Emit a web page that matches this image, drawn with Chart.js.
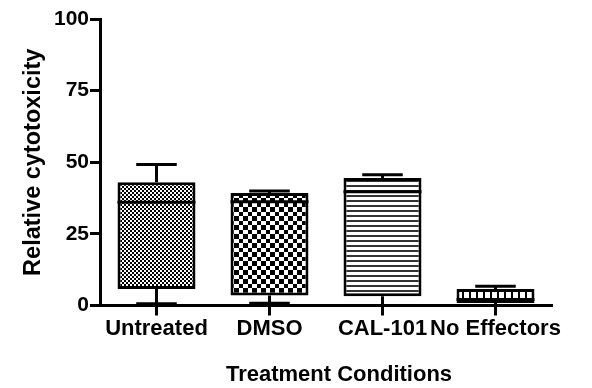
<!DOCTYPE html>
<html>
<head>
<meta charset="utf-8">
<script src="https://cdn.jsdelivr.net/npm/chart.js@4/dist/chart.umd.min.js"></script>
<style>
  html, body { margin: 0; padding: 0; background: #fff; }
  canvas { display: block; }
</style>
</head>
<body>
<canvas id="chart" width="592" height="388"></canvas>
<script>
// Relative cytotoxicity per treatment, as box-and-whisker summaries
const categories = ['Untreated', 'DMSO', 'CAL-101', 'No Effectors'];
const whiskerLow   = [0.6, 0.8, 0.0, 0.0];
const quartileLow  = [5.8, 3.5, 3.2, 0.9];
const medians      = [36.0, 36.2, 39.7, 2.1];
const quartileHigh = [43.0, 39.3, 44.5, 5.8];
const whiskerHigh  = [49.2, 40.0, 45.6, 6.7];
const yTicks = [0, 25, 50, 75, 100];
const xTitle = 'Treatment Conditions';

const FONT = 'Liberation Sans, Arial, Helvetica, sans-serif';

// Monochrome fill patterns, one per box
function makePattern(w, h, paint) {
  const c = document.createElement('canvas');
  c.width = w; c.height = h;
  const g = c.getContext('2d');
  g.fillStyle = '#fff';
  g.fillRect(0, 0, w, h);
  g.fillStyle = '#000';
  paint(g);
  return g.createPattern(c, 'repeat');
}
const fineChecker = makePattern(4, 4, g => { g.fillRect(0, 0, 2, 2); g.fillRect(2, 2, 2, 2); });
const coarseChecker = makePattern(9, 9, g => { g.fillRect(0, 0, 5, 5); g.fillRect(5, 5, 4, 4); });
const hStripes = makePattern(5, 5, g => { g.fillStyle = '#333'; g.fillRect(0, 0, 5, 2); });
const vStripes = makePattern(7, 7, g => { g.fillRect(0, 0, 2, 7); });

// Whiskers behind the boxes, medians on top, axis title under the plot
const boxWhiskers = {
  id: 'boxWhiskers',
  beforeDatasetsDraw(chart) {
    const y = chart.scales.y;
    const ctx = chart.ctx;
    const bars = chart.getDatasetMeta(0).data;
    ctx.save();
    ctx.strokeStyle = '#000';
    ctx.lineWidth = 3;
    ctx.lineCap = 'butt';
    bars.forEach((bar, i) => {
      const half = bar.width * 0.26;
      const pairs = [[quartileHigh[i], whiskerHigh[i]], [quartileLow[i], whiskerLow[i]]];
      pairs.forEach(([from, to]) => {
        const y0 = y.getPixelForValue(from);
        const y1 = y.getPixelForValue(to);
        ctx.beginPath();
        ctx.moveTo(bar.x, y0);
        ctx.lineTo(bar.x, y1);
        ctx.moveTo(bar.x - half, y1);
        ctx.lineTo(bar.x + half, y1);
        ctx.stroke();
      });
    });
    ctx.restore();
  },
  afterDatasetsDraw(chart) {
    const y = chart.scales.y;
    const ctx = chart.ctx;
    const bars = chart.getDatasetMeta(0).data;
    ctx.save();
    ctx.strokeStyle = '#000';
    ctx.lineWidth = 3;
    bars.forEach((bar, i) => {
      const ym = y.getPixelForValue(medians[i]);
      ctx.beginPath();
      ctx.moveTo(bar.x - bar.width / 2, ym);
      ctx.lineTo(bar.x + bar.width / 2, ym);
      ctx.stroke();
    });
    ctx.restore();
  },
  afterDraw(chart) {
    const ctx = chart.ctx;
    const area = chart.chartArea;
    ctx.save();
    ctx.fillStyle = '#000';
    ctx.font = 'bold 22px ' + FONT;
    ctx.textAlign = 'center';
    ctx.textBaseline = 'middle';
    ctx.fillText(xTitle, (area.left + area.right) / 2 + 13, chart.height - 13);
    ctx.restore();
  }
};

const labelFont = { family: FONT, size: 22, weight: 'bold', lineHeight: 1.2 };

new Chart(document.getElementById('chart'), {
  type: 'bar',
  data: {
    labels: categories,
    datasets: [{
      data: categories.map((_, i) => [quartileLow[i], quartileHigh[i]]),
      backgroundColor: [fineChecker, coarseChecker, hStripes, vStripes],
      borderColor: '#000',
      borderWidth: 3,
      borderSkipped: false,
      barPercentage: 0.69,
      categoryPercentage: 1.0
    }]
  },
  options: {
    responsive: false,
    devicePixelRatio: 1,
    animation: false,
    layout: { padding: { top: 19, right: 40, left: 0, bottom: 0 } },
    plugins: {
      legend: { display: false },
      tooltip: { enabled: false }
    },
    scales: {
      x: {
        offset: true,
        grid: { display: true, drawOnChartArea: false, drawTicks: true, tickLength: 10, tickWidth: 3, tickColor: '#000', offset: false },
        border: { display: true, color: '#000', width: 3 },
        ticks: { color: '#000', font: labelFont, padding: 0, maxRotation: 0, autoSkip: false },
        title: { display: false },
        afterFit(scale) { scale.height = 82.5; }
      },
      y: {
        min: 0,
        max: 100,
        afterBuildTicks(scale) { scale.ticks = yTicks.map(v => ({ value: v })); },
        grid: { display: true, drawOnChartArea: false, drawTicks: true, tickLength: 10, tickWidth: 3, tickColor: '#000' },
        border: { display: true, color: '#000', width: 3 },
        ticks: { color: '#000', font: { family: FONT, size: 21, weight: 'bold' }, padding: 1 },
        title: { display: true, text: 'Relative cytotoxicity', color: '#000', font: { family: FONT, size: 23.5, weight: 'bold', lineHeight: 1.2 }, padding: { top: 19, bottom: 0 } },
        afterFit(scale) { scale.width = 100; }
      }
    }
  },
  plugins: [boxWhiskers]
});
</script>
</body>
</html>
